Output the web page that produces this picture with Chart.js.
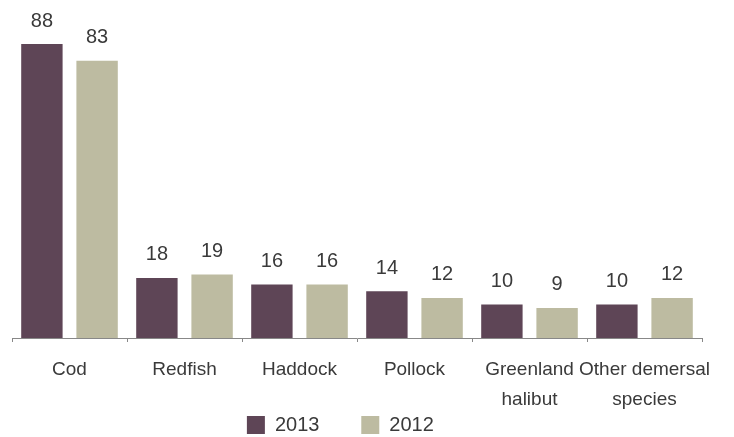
<!DOCTYPE html>
<html>
<head>
<meta charset="utf-8">
<script src="https://cdn.jsdelivr.net/npm/chart.js@4"></script>
<style>
  html, body { margin: 0; padding: 0; background: #fff; }
  #wrap { width: 734px; height: 437px; }
</style>
</head>
<body>
<div id="wrap"><canvas id="chartBar"></canvas></div>
<script>
var categories = ['Cod', 'Redfish', 'Haddock', 'Pollock', ['Greenland', 'halibut'], ['Other demersal', 'species']];
var seriesNames = ['2013', '2012'];
var values2013 = [88, 18, 16, 14, 10, 10];
var values2012 = [83, 19, 16, 12, 9, 12];

var fontFamily = '"Liberation Sans", Arial, sans-serif';

// draw the numbers above each bar
var barLabels = {
  id: 'barLabels',
  afterDatasetsDraw: function(chart) {
    var ctx = chart.ctx;
    ctx.save();
    ctx.font = '20px ' + fontFamily;
    ctx.fillStyle = '#3a3a3a';
    ctx.textAlign = 'center';
    ctx.textBaseline = 'bottom';
    chart.data.datasets.forEach(function(ds, i) {
      chart.getDatasetMeta(i).data.forEach(function(bar, j) {
        ctx.fillText(ds.data[j], bar.x, bar.y - 13);
      });
    });
    ctx.restore();
  }
};

var chartBar1 = new Chart(document.getElementById('chartBar'), {
  type: 'bar',
  data: {
    labels: categories,
    datasets: [
      { label: seriesNames[0], data: values2013, backgroundColor: '#5e4556' },
      { label: seriesNames[1], data: values2012, backgroundColor: '#bdbba1' }
    ]
  },
  options: {
    responsive: true,
    maintainAspectRatio: false,
    animation: false,
    layout: { padding: { left: 12, right: 32, top: 14, bottom: -8 } },
    datasets: {
      bar: { categoryPercentage: 0.96, barPercentage: 0.75 }
    },
    scales: {
      x: {
        offset: true,
        grid: { display: true, drawOnChartArea: false, offset: true, color: '#888', tickLength: 4 },
        border: { display: true, color: '#888', width: 1 },
        ticks: {
          color: '#3a3a3a',
          maxRotation: 0,
          autoSkip: false,
          padding: 13,
          font: { family: fontFamily, size: 19, lineHeight: 1.58 }
        },
        afterFit: function(scale) {
          scale.height = 74;
        }
      },
      y: {
        display: false,
        min: 0,
        max: 97
      }
    },
    plugins: {
      legend: {
        position: 'bottom',
        labels: {
          boxWidth: 18,
          boxHeight: 18,
          padding: 3,
          color: '#3a3a3a',
          font: { family: fontFamily, size: 20 },
          // trailing spaces give the wide gap between the two entries
          generateLabels: function(chart) {
            var items = Chart.defaults.plugins.legend.labels.generateLabels(chart);
            items[0].text = items[0].text + '       ';
            items[1].text = items[1].text + '      ';
            items.forEach(function(it) { it.lineWidth = 0; });
            return items;
          }
        }
      },
      tooltip: { enabled: false }
    }
  },
  plugins: [barLabels]
});
</script>
</body>
</html>
